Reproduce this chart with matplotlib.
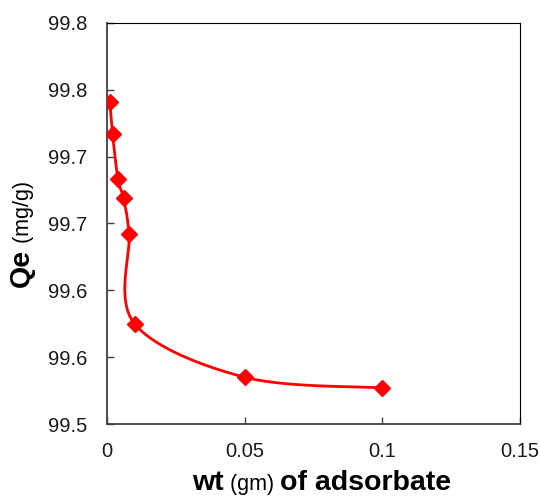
import numpy as np
import matplotlib
matplotlib.use("Agg")
import matplotlib.pyplot as plt

# ---- data ----
wt = [0.001, 0.002, 0.004, 0.006, 0.008, 0.010, 0.050, 0.100]
qe = [99.741, 99.717, 99.683, 99.669, 99.642, 99.575, 99.535, 99.527]
y_ticks = [99.50, 99.55, 99.60, 99.65, 99.70, 99.75, 99.80]
y_tick_labels = ["99.5", "99.6", "99.6", "99.7", "99.7", "99.8", "99.8"]
x_ticks = [0, 0.05, 0.10, 0.15]
x_tick_labels = ["0", "0.05", "0.1", "0.15"]

plt.rcParams['font.family'] = ['Liberation Sans', 'DejaVu Sans']

fig = plt.figure(figsize=(5.4, 4.96), dpi=100)
ax = fig.add_axes([107/540, 1-424/496, 413/540, 401/496])
ax.set_xlim(0, 0.15)
ax.set_ylim(99.5, 99.8)

# Excel-like smooth line (Catmull-Rom Bezier in display space)
def smooth(xs, ys, n=60):
    P = ax.transData.transform(np.column_stack([xs, ys]))
    pts = np.vstack([P[0], P, P[-1]])
    out = []
    for i in range(1, len(pts) - 2):
        p0, p1, p2, p3 = pts[i-1], pts[i], pts[i+1], pts[i+2]
        c1 = p1 + (p2 - p0) / 6.0
        c2 = p2 - (p3 - p1) / 6.0
        t = np.linspace(0, 1, n)[:, None]
        seg = ((1-t)**3)*p1 + 3*((1-t)**2)*t*c1 + 3*(1-t)*(t**2)*c2 + (t**3)*p2
        out.append(seg)
    out = np.vstack(out)
    return ax.transData.inverted().transform(out)

curve = smooth(wt, qe)
ax.plot(curve[:, 0], curve[:, 1], color='#ff0000', lw=2.0, solid_capstyle='round', zorder=3)
ax.plot(wt, qe, linestyle='none', marker='D', ms=8, color='#ff0000', zorder=4)

ax.set_xticks(x_ticks)
ax.set_xticklabels(x_tick_labels)
ax.set_yticks(y_ticks)
ax.set_yticklabels(y_tick_labels)
ax.tick_params(direction='in', length=5, width=1, labelsize=14.5, colors='#404040',
               labelcolor='#1a1a1a')
ax.tick_params(axis='y', pad=14)
ax.tick_params(axis='x', pad=13)
for s in ['left', 'bottom']:
    ax.spines[s].set_color('#404040')
    ax.spines[s].set_linewidth(1.3)
for s in ['top', 'right']:
    ax.spines[s].set_color('#000000')
    ax.spines[s].set_linewidth(0.8)

# ---- composite axis labels ----
fig.canvas.draw()
r = fig.canvas.get_renderer()
H = 496.0
W = 540.0

# x label
parts = [("wt", 'bold', 20.5), (" (gm) ", 'normal', 15.5), ("of adsorbate", 'bold', 20.5)]
texts = []
for s, w, sz in parts:
    t = fig.text(0, 0, s, fontweight=w, fontsize=sz, ha='left', va='baseline', color='#000000')
    texts.append(t)
widths = [t.get_window_extent(r).width for t in texts]
total = sum(widths)
cx = 322
x0 = cx - total / 2
base_y = 490
for t, w in zip(texts, widths):
    t.set_position((x0 / W, 1 - base_y / H))
    x0 += w

# y label (rotated)
yparts = [("Qe", 'bold', 20.5), (" (mg/g)", 'normal', 15.5)]
ytexts = []
for s, w, sz in yparts:
    t = fig.text(0, 0, s, fontweight=w, fontsize=sz, rotation=90, rotation_mode='anchor',
                 ha='left', va='baseline', color='#000000')
    ytexts.append(t)
heights = []
for t in ytexts:
    t.set_rotation(0)
    heights.append(t.get_window_extent(r).width)
    t.set_rotation(90)
ytotal = sum(heights)
cy = 234
y0 = cy + ytotal / 2  # pixel from top (bottom of text run)
base_x = 29
for t, h in zip(ytexts, heights):
    t.set_position((base_x / W, 1 - y0 / H))
    y0 -= h

fig.savefig("out.png", dpi=100)
